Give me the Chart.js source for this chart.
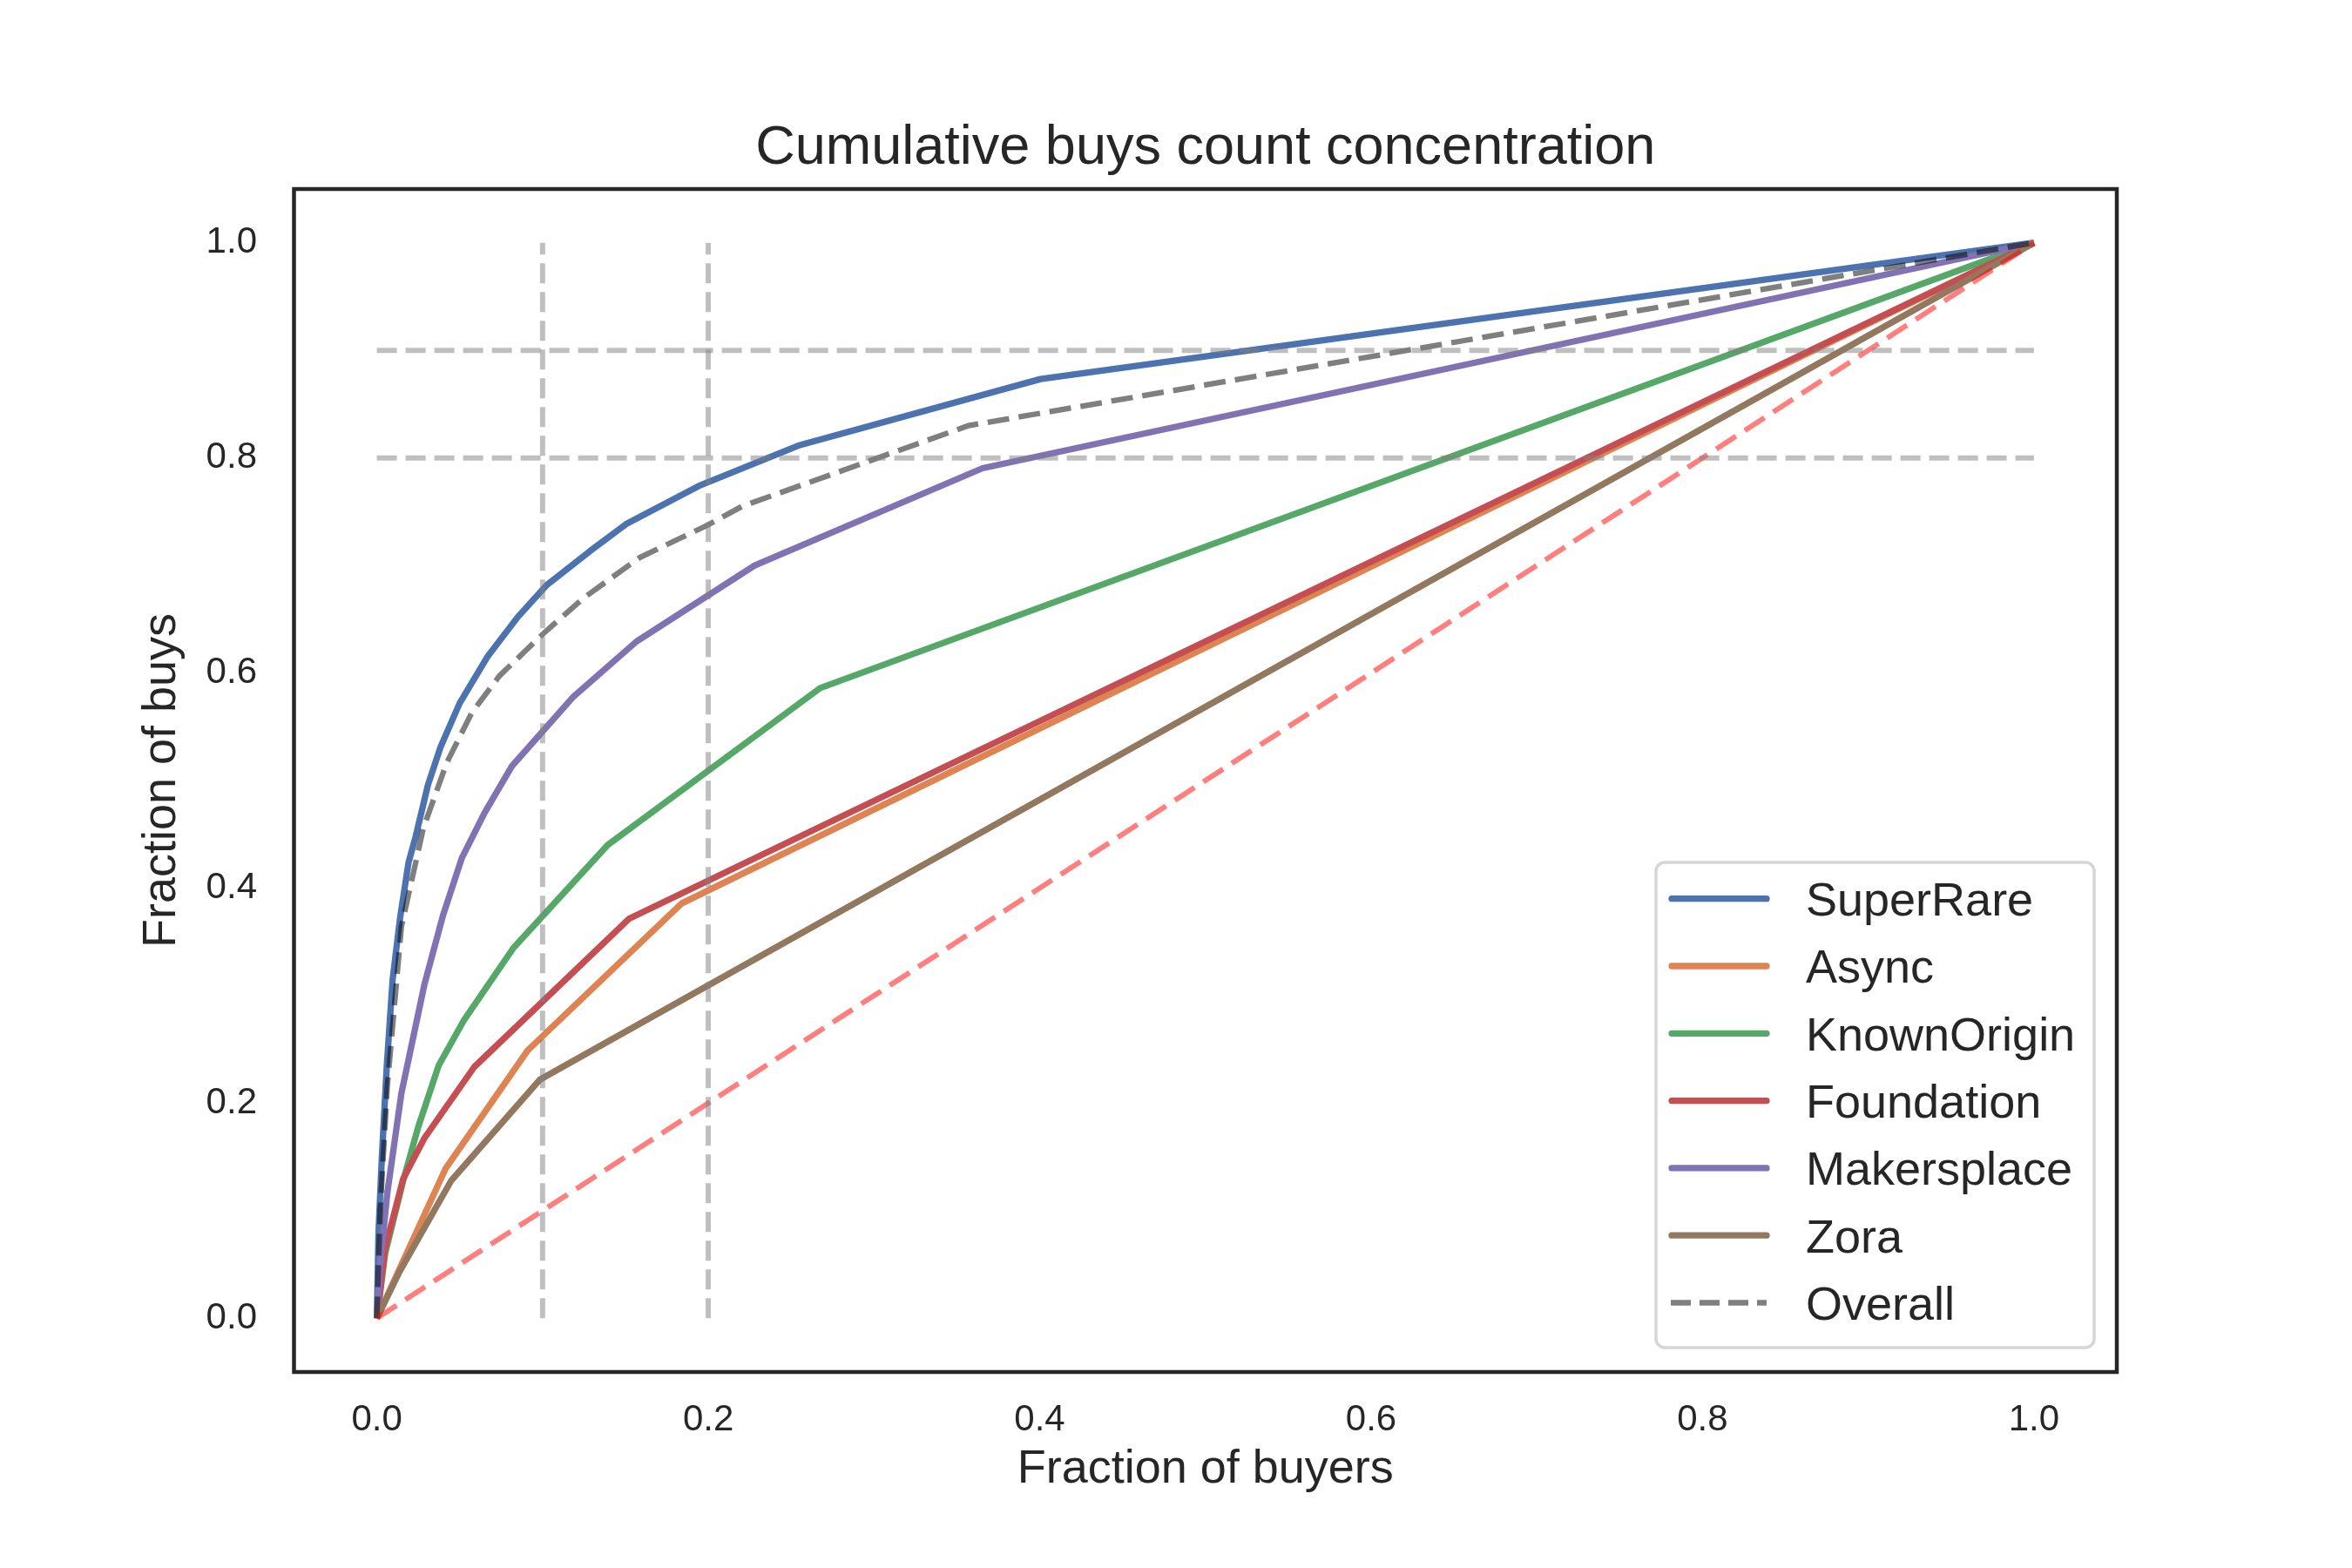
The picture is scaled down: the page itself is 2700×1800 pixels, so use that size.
<!DOCTYPE html>
<html>
<head>
<meta charset="utf-8">
<title>Cumulative buys count concentration</title>
<script src="https://cdn.jsdelivr.net/npm/chart.js@4.4.1/dist/chart.umd.min.js"></script>
<style>
    html, body { margin: 0; padding: 0; background: #ffffff; }
    #wrap { width: 2700px; height: 1800px; }
</style>
</head>
<body>
<div id="wrap"><canvas id="concentration-chart" width="2700" height="1800"></canvas></div>
<script>
// values
const platforms = ['SuperRare', 'Async', 'KnownOrigin', 'Foundation', 'Makersplace', 'Zora', 'Overall'];
const xTicks = [0, 0.2, 0.4, 0.6, 0.8, 1.0];
const yTicks = [0, 0.2, 0.4, 0.6, 0.8, 1.0];

const superRareX = [0, 0.001, 0.003, 0.006, 0.0095, 0.014, 0.0191, 0.0234, 0.0309, 0.0384, 0.05, 0.0666, 0.085, 0.1022, 0.1285, 0.151, 0.1942, 0.2543, 0.4005, 1];
const superRareY = [0, 0.08, 0.149, 0.235, 0.3146, 0.372, 0.4236, 0.4478, 0.4963, 0.531, 0.572, 0.6148, 0.652, 0.6813, 0.7132, 0.739, 0.7738, 0.8114, 0.8733, 1];

const asyncX = [0, 0.0416, 0.091, 0.1839, 1];
const asyncY = [0, 0.1395, 0.249, 0.3857, 1];

const knownOriginX = [0, 0.005, 0.0159, 0.025, 0.0374, 0.0524, 0.0824, 0.1393, 0.2675, 1];
const knownOriginY = [0, 0.06, 0.128, 0.178, 0.2354, 0.2767, 0.3443, 0.4401, 0.586, 1];

const foundationX = [0, 0.005, 0.0159, 0.0288, 0.0588, 0.1521, 1];
const foundationY = [0, 0.065, 0.1297, 0.1677, 0.2337, 0.3714, 1];

const makersplaceX = [0, 0.002, 0.0063, 0.0148, 0.0288, 0.04, 0.0513, 0.065, 0.0816, 0.1182, 0.1567, 0.228, 0.3655, 1];
const makersplaceY = [0, 0.05, 0.1164, 0.209, 0.311, 0.375, 0.428, 0.47, 0.5136, 0.5773, 0.6293, 0.7, 0.7904, 1];

const zoraX = [0, 0.0138, 0.0449, 0.0985, 1];
const zoraY = [0, 0.0437, 0.128, 0.222, 1];

const overallX = [0, 0.002, 0.0063, 0.0148, 0.0281, 0.0422, 0.0572, 0.0741, 0.1004, 0.1248, 0.1586, 0.1999, 0.2205, 0.357, 1];
const overallY = [0, 0.1, 0.2155, 0.364, 0.456, 0.5166, 0.5628, 0.5975, 0.6365, 0.6698, 0.7073, 0.7377, 0.755, 0.83, 1];

const equalityX = [0, 1];
const equalityY = [0, 1];

const refX = [0.1, 0.2];
const refY = [0.8, 0.9];

const fontFamily = '"Liberation Sans", Arial, sans-serif';
const textColor = '#262626';

function toPoints(xs, ys) {
    return xs.map((x, i) => ({ x: x, y: ys[i] }));
}

function platformLine(label, xs, ys, color, order) {
    return {
        label: label,
        data: toPoints(xs, ys),
        borderColor: color,
        borderWidth: 7.3,
        borderJoinStyle: 'round',
        pointRadius: 0,
        tension: 0,
        order: order,
        inLegend: true,
    };
}

function guideLine(label, data, color, dash, order) {
    return {
        label: label,
        data: data,
        borderColor: color,
        borderWidth: 6,
        borderDash: dash,
        pointRadius: 0,
        tension: 0,
        order: order,
        inLegend: false,
    };
}

const datasets = [
    platformLine(platforms[0], superRareX, superRareY, '#4c72b0', 20),
    platformLine(platforms[1], asyncX, asyncY, '#dd8452', 19),
    platformLine(platforms[2], knownOriginX, knownOriginY, '#55a868', 18),
    platformLine(platforms[3], foundationX, foundationY, '#c44e52', 17),
    platformLine(platforms[4], makersplaceX, makersplaceY, '#8172b3', 16),
    platformLine(platforms[5], zoraX, zoraY, '#937860', 15),
    Object.assign(guideLine(platforms[6], toPoints(overallX, overallY), 'rgba(0,0,0,0.5)', [25, 11], 14), { inLegend: true, borderWidth: 6.3 }),
    guideLine('equality', toPoints(equalityX, equalityY), 'rgba(255,0,0,0.5)', [27, 12], 13),
];
refX.forEach((v, i) => {
    datasets.push(guideLine('ref x ' + v, [{ x: v, y: 0 }, { x: v, y: 1 }], 'rgba(128,128,128,0.5)', [23, 10], 10 - i));
});
refY.forEach((v, i) => {
    datasets.push(guideLine('ref y ' + v, [{ x: 0, y: v }, { x: 1, y: v }], 'rgba(128,128,128,0.5)', [23, 10], 5 - i));
});

// box around the plotting area, like matplotlib spines
const axesFrame = {
    id: 'axesFrame',
    afterDatasetsDraw(chart) {
        const { left, top, right, bottom } = chart.chartArea;
        const ctx = chart.ctx;
        ctx.save();
        ctx.lineWidth = 4.5;
        ctx.strokeStyle = textColor;
        ctx.strokeRect(left, top, right - left, bottom - top);
        ctx.restore();
    }
};

// legend sitting in the lower right corner of the axes
const insideLegend = {
    id: 'insideLegend',
    afterDraw(chart) {
        const ctx = chart.ctx;
        const items = chart.data.datasets.filter(d => d.inLegend);
        const left = 1901, top = 990, width = 503, height = 557;
        const rowH = 77.3, firstRow = 1031.7;
        ctx.save();
        ctx.beginPath();
        ctx.roundRect(left, top, width, height, 10);
        ctx.fillStyle = 'rgba(255,255,255,0.8)';
        ctx.fill();
        ctx.lineWidth = 3.5;
        ctx.strokeStyle = '#d6d6d6';
        ctx.stroke();
        ctx.font = '54px ' + fontFamily;
        ctx.textBaseline = 'alphabetic';
        ctx.textAlign = 'left';
        items.forEach((ds, i) => {
            const cy = firstRow + i * rowH;
            ctx.beginPath();
            if (ds.borderDash) {
                ctx.setLineDash([23, 10]);
                ctx.lineCap = 'butt';
                ctx.moveTo(1918, cy);
            } else {
                ctx.setLineDash([]);
                ctx.lineCap = 'round';
                ctx.moveTo(1919, cy);
            }
            ctx.lineTo(2028, cy);
            ctx.lineWidth = ds.borderWidth;
            ctx.strokeStyle = ds.borderColor;
            ctx.stroke();
            ctx.setLineDash([]);
            ctx.fillStyle = textColor;
            ctx.fillText(ds.label, 2073, cy + 19.3);
        });
        ctx.restore();
    }
};

Chart.defaults.font.family = fontFamily;
Chart.defaults.color = textColor;

new Chart(document.getElementById('concentration-chart'), {
    type: 'line',
    data: { datasets: datasets },
    options: {
        responsive: false,
        animation: false,
        devicePixelRatio: 1,
        events: [],
        layout: { padding: { left: 0, right: 270, top: 0, bottom: 0 } },
        plugins: {
            legend: { display: false },
            tooltip: { enabled: false },
            title: {
                display: true,
                text: 'Cumulative buys count concentration',
                fullSize: false,
                color: textColor,
                font: { size: 63, weight: 'normal', family: fontFamily },
                padding: { top: 132.5, bottom: 8.9 },
            },
        },
        scales: {
            x: {
                type: 'linear',
                min: -0.05,
                max: 1.05,
                afterBuildTicks: scale => { scale.ticks = xTicks.map(v => ({ value: v })); },
                afterFit: scale => { scale.height = 225; },
                grid: { display: false, drawTicks: false },
                border: { display: false },
                ticks: {
                    padding: 30,
                    color: textColor,
                    autoSkip: false,
                    maxRotation: 0,
                    font: { size: 42, family: fontFamily },
                    callback: v => v.toFixed(1),
                },
                title: {
                    display: true,
                    text: 'Fraction of buyers',
                    color: textColor,
                    font: { size: 54, family: fontFamily },
                    padding: { top: 0, bottom: 80.3 },
                },
            },
            y: {
                type: 'linear',
                min: -0.05,
                max: 1.05,
                afterBuildTicks: scale => { scale.ticks = yTicks.map(v => ({ value: v })); },
                afterFit: scale => { scale.width = 337.5; },
                grid: { display: false, drawTicks: false },
                border: { display: false },
                ticks: {
                    padding: 42.5,
                    color: textColor,
                    autoSkip: false,
                    font: { size: 42, family: fontFamily },
                    callback: v => v.toFixed(1),
                },
                title: {
                    display: true,
                    text: 'Fraction of buys',
                    color: textColor,
                    font: { size: 54, family: fontFamily },
                    padding: { top: 153.9, bottom: 0 },
                },
            },
        },
    },
    plugins: [axesFrame, insideLegend],
});
</script>
</body>
</html>
